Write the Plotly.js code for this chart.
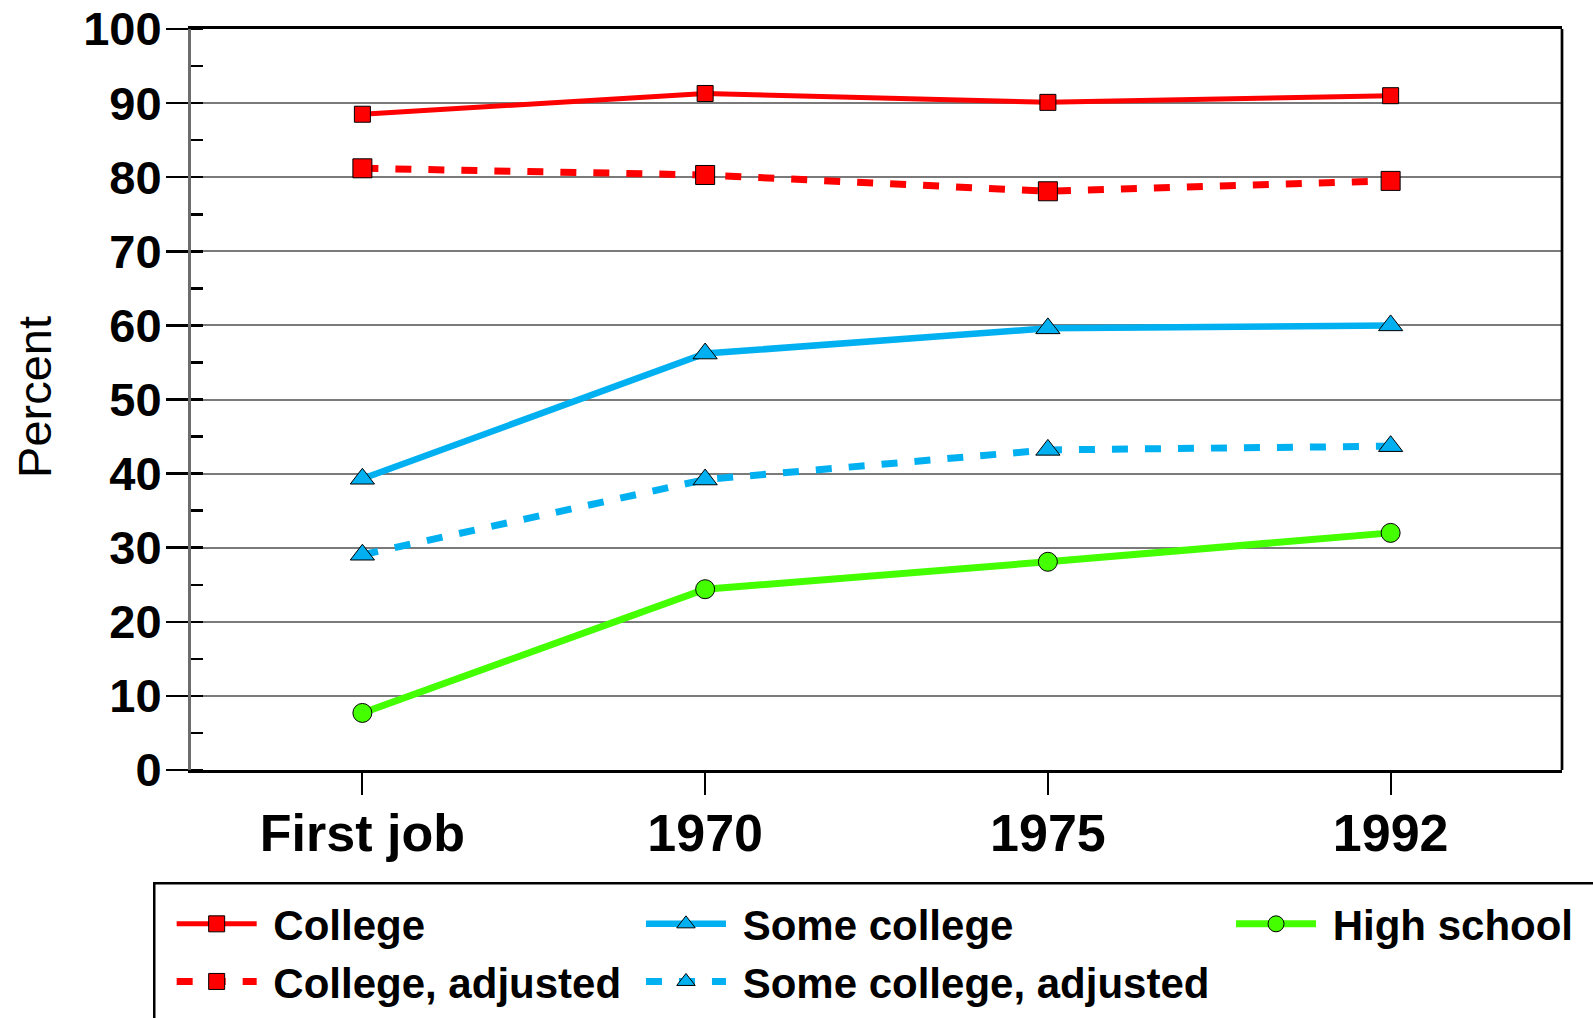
<!DOCTYPE html>
<html>
<head>
<meta charset="utf-8">
<script src="https://cdn.plot.ly/plotly-3.0.1.min.js"></script>
<style>
  html, body { margin: 0; padding: 0; background: #fff; }
  #chart { width: 1593px; height: 1018px; }
</style>
</head>
<body>
<div id="chart"></div>
<script>
const categories = ['First job', '1970', '1975', '1992'];
const college = [88.5, 91.3, 90.1, 91.0];
const collegeAdjusted = [81.2, 80.3, 78.1, 79.5];
const someCollege = [39.3, 56.2, 59.6, 60.0];
const someCollegeAdjusted = [29.05, 39.2, 43.2, 43.7];
const highSchool = [7.7, 24.4, 28.1, 32.0];
const yTicks = [0, 10, 20, 30, 40, 50, 60, 70, 80, 90, 100];

const FONT = 'Liberation Sans, Arial, Helvetica, sans-serif';
const RED = '#FF0000', BLUE = '#00B0F0', GREEN = '#44FF00';
const NB = '\u00a0';

const traces = [
  { name: NB + 'College', x: categories, y: college, type: 'scatter', mode: 'lines+markers',
    line: { color: RED, width: 5 },
    marker: { symbol: 'square', size: 16, color: RED, line: { color: '#000', width: 1 } },
    legend: 'legend' },
  { name: NB + 'College, adjusted', x: categories, y: collegeAdjusted, type: 'scatter', mode: 'lines+markers',
    line: { color: RED, width: 7, dash: '16px,17px' },
    marker: { symbol: 'square', size: 19, color: RED, line: { color: '#000', width: 1 } },
    legend: 'legend' },
  { name: NB + 'Some college', x: categories, y: someCollege, type: 'scatter', mode: 'lines+markers',
    line: { color: BLUE, width: 6.5 },
    marker: { symbol: 'triangle-up', size: 21, color: BLUE, line: { color: '#000', width: 1 } },
    legend: 'legend2' },
  { name: NB + 'Some college, adjusted', x: categories, y: someCollegeAdjusted, type: 'scatter', mode: 'lines+markers',
    line: { color: BLUE, width: 7, dash: '16px,17px' },
    marker: { symbol: 'triangle-up', size: 21, color: BLUE, line: { color: '#000', width: 1 } },
    legend: 'legend2' },
  { name: NB + 'High school', x: categories, y: highSchool, type: 'scatter', mode: 'lines+markers',
    line: { color: GREEN, width: 7 },
    marker: { symbol: 'circle', size: 19, color: GREEN, line: { color: '#000', width: 1 } },
    legend: 'legend3' }
];

const legendFont = { family: FONT, size: 42, color: '#000', weight: 'bold' };
const legendBase = {
  orientation: 'v', xanchor: 'left', yanchor: 'top', y: -0.162,
  bgcolor: 'rgba(0,0,0,0)', borderwidth: 0, font: legendFont,
  itemwidth: 80, tracegroupgap: 0, traceorder: 'normal'
};

const layout = {
  width: 1593, height: 1018,
  margin: { l: 191, r: 31, t: 29, b: 248, autoexpand: false },
  paper_bgcolor: '#fff', plot_bgcolor: '#fff',
  showlegend: true,
  legend: Object.assign({}, legendBase, { x: -0.0141 }),
  legend2: Object.assign({}, legendBase, { x: 0.3282 }),
  legend3: Object.assign({}, legendBase, { x: 0.7586 }),
  xaxis: {
    type: 'category', range: [-0.5, 3.5], fixedrange: true,
    showline: true, linecolor: '#000', linewidth: 2.7, mirror: true,
    showgrid: false, zeroline: false,
    ticks: 'outside', ticklen: 22, tickwidth: 2, tickcolor: '#000',
    ticklabelstandoff: -6,
    tickfont: { family: FONT, size: 52, color: '#000', weight: 'bold' }
  },
  yaxis: {
    range: [0, 100], fixedrange: true,
    tickmode: 'array', tickvals: yTicks, ticktext: yTicks.map(String),
    showline: true, linecolor: '#6d6d6d', linewidth: 3, mirror: false,
    showgrid: true, gridcolor: '#7a7a7a', gridwidth: 2, zeroline: false,
    ticks: 'outside', ticklen: 22, tickwidth: 2.5, tickcolor: '#000',
    ticklabelstandoff: -5,
    tickfont: { family: FONT, size: 47, color: '#000', weight: 'bold' },
    minor: { dtick: 5, ticks: 'inside', ticklen: 12, tickwidth: 2.5, tickcolor: '#000', showgrid: false }
  },
  shapes: [
    { type: 'line', xref: 'paper', yref: 'paper', x0: 1, x1: 1, y0: 0, y1: 1,
      line: { color: '#000', width: 2.7 } },
    { type: 'rect', xref: 'paper', yref: 'paper', x0: -0.0268, x1: 1.04, y0: -0.1529, y1: -0.36,
      line: { color: '#000', width: 2.5 }, fillcolor: 'rgba(0,0,0,0)' }
  ],
  annotations: [
    { text: 'Percent', xref: 'paper', yref: 'paper', x: -0.1142, y: 0.504,
      xanchor: 'center', yanchor: 'middle', textangle: -90, showarrow: false,
      font: { family: FONT, size: 47, color: '#000' } }
  ]
};

Plotly.newPlot('chart', traces, layout, { displayModeBar: false, staticPlot: true });
</script>
</body>
</html>
